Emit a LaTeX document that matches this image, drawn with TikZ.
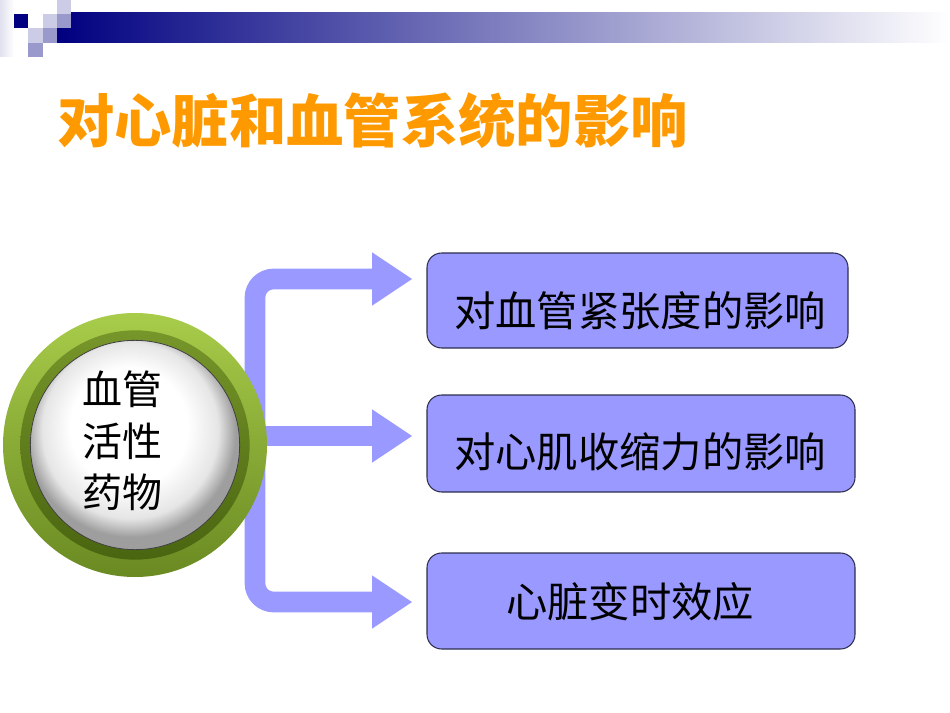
\documentclass[tikz,border=0pt]{standalone}
\usepackage{fontspec}
\newfontfamily\cjk{Noto Sans CJK SC}
\usetikzlibrary{arrows.meta}
\definecolor{navy}{HTML}{000080}
\definecolor{sqlight}{HTML}{CCCCE6}
\definecolor{sqmid}{HTML}{9999CC}
\definecolor{titleorange}{HTML}{FF9900}
\definecolor{lav}{HTML}{9999FF}
\definecolor{boxline}{HTML}{2F2F4F}
\definecolor{ringlight}{HTML}{A8CC4A}
\definecolor{ringdark}{HTML}{6A8A22}
\definecolor{bandlight}{HTML}{77962A}
\definecolor{banddark}{HTML}{4A6510}
\pgfdeclarelayer{bg}
\pgfsetlayers{bg,main}
\pgfdeclareradialshading{sphere}{\pgfpoint{-2bp}{6bp}}{color(0bp)=(white); color(14bp)=(white); color(21bp)=(white!90!black); color(25bp)=(white!62!black); color(50bp)=(white!62!black)}
\tikzset{
  boxnode/.style={rectangle, rounded corners=11pt, fill=lav, draw=boxline, line width=0.8pt, inner sep=0pt},
  lbl/.style={font=\cjk\fontsize{31pt}{37pt}\selectfont, text=black, inner sep=0pt},
  arr/.style={draw=lav, line width=15.5pt, rounded corners=14pt,
    -{Triangle[length=30pt, width=40pt, line width=0pt]}},
}
\begin{document}
\begin{tikzpicture}[x=0.75pt, y=-0.75pt]
\useasboundingbox (0,0) rectangle (950,713);
% header
\shade[left color=sqlight!60, right color=white] (0,0) rectangle (14,57);
\shade[left color=navy, right color=white] (57,13) rectangle (950,43);
\fill[navy] (14,14) rectangle (28,28);
\fill[sqlight] (43,14) rectangle (57,28);
\fill[sqmid] (57,14) rectangle (71,28);
\fill[sqlight] (57,0) rectangle (71,14);
\fill[sqlight] (28,28) rectangle (43,43);
\fill[sqmid] (43,28) rectangle (57,43);
\fill[sqmid] (28,43) rectangle (43,57);
% title
\node[anchor=west, inner sep=0pt, text=titleorange, font=\cjk\bfseries\fontsize{43pt}{50pt}\selectfont] (title) at (57,121) {对心脏和血管系统的影响};
% central circle
\node[circle, minimum size=198pt, inner sep=0pt, top color=ringlight, bottom color=ringdark] (drug) at (135,445) {};
\node[circle, minimum size=172pt, inner sep=0pt, top color=bandlight, bottom color=banddark] (band) at (drug.center) {};
\node[circle, minimum size=157pt, inner sep=0pt, shading=sphere, draw=black!75, line width=0.6pt] (sphere) at (drug.center) {};
\node[align=center, inner sep=0pt, font=\cjk\fontsize{30pt}{38.5pt}\selectfont] (drugtxt) at (122,441) {血管\\活性\\药物};
% boxes
\node[boxnode, minimum width=315.75pt, minimum height=71.25pt] (b1) at (637.5,300.5) {};
\node[boxnode, minimum width=321pt, minimum height=72.75pt] (b2) at (641,443.5) {};
\node[boxnode, minimum width=321pt, minimum height=72pt] (b3) at (641,601) {};
\node[lbl] (l1) at (640,311) {对血管紧张度的影响};
\node[lbl] (l2) at (640,452) {对心肌收缩力的影响};
\node[lbl] (l3) at (630,602) {心脏变时效应};
% arrows
\coordinate (t1) at (412,279);
\coordinate (t2) at (412,436);
\coordinate (t3) at (412,602);
\begin{pgfonlayer}{bg}
\draw[arr] (drug.center) -- (255,445) -- (255,279) -- (t1);
\draw[arr] (drug.center) -- (255,445) -- (255,602) -- (t3);
\draw[arr, rounded corners=0pt] (drug.center |- t2) -- (t2);
\end{pgfonlayer}
\end{tikzpicture}
\end{document}
